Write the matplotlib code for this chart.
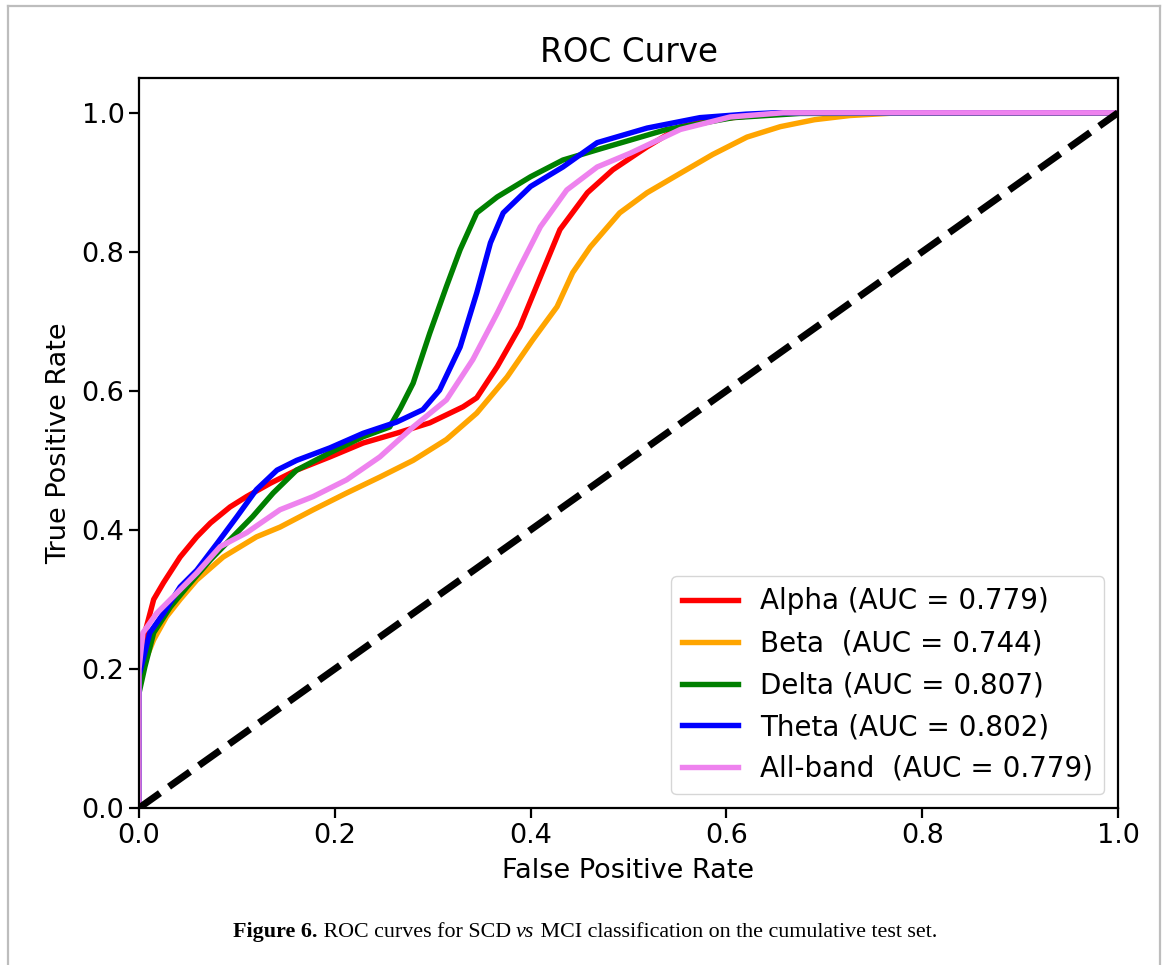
import numpy as np
import matplotlib
matplotlib.use('Agg')
import matplotlib.pyplot as plt
from matplotlib.lines import Line2D
from matplotlib.offsetbox import TextArea, HPacker, AnchoredOffsetbox

# valores (fpr, tpr)
alpha_fpr = [0, 0, 0.006, 0.015, 0.025, 0.042, 0.059, 0.073, 0.093, 0.11, 0.134, 0.161, 0.195, 0.229, 0.263,
             0.297, 0.331, 0.345, 0.366, 0.389, 0.41, 0.43, 0.458, 0.484, 0.519, 0.553, 0.586, 0.62, 0.66, 0.70, 1.0]
alpha_tpr = [0, 0.213, 0.252, 0.30, 0.324, 0.361, 0.39, 0.41, 0.433, 0.448, 0.467, 0.486, 0.505, 0.525, 0.539,
             0.554, 0.577, 0.59, 0.635, 0.692, 0.764, 0.832, 0.885, 0.918, 0.951, 0.98, 0.99, 0.995, 0.999, 1.0, 1.0]

beta_fpr = [0, 0, 0.015, 0.028, 0.042, 0.059, 0.086, 0.12, 0.144, 0.178, 0.212, 0.246, 0.28, 0.314, 0.345,
            0.376, 0.402, 0.427, 0.443, 0.461, 0.491, 0.519, 0.553, 0.586, 0.621, 0.655, 0.69, 0.726, 0.777, 1.0]
beta_tpr = [0, 0.19, 0.242, 0.275, 0.30, 0.328, 0.361, 0.39, 0.404, 0.429, 0.453, 0.476, 0.50, 0.53, 0.568,
            0.62, 0.673, 0.721, 0.77, 0.807, 0.856, 0.885, 0.913, 0.94, 0.965, 0.98, 0.99, 0.996, 1.0, 1.0]

delta_fpr = [0, 0, 0.006, 0.015, 0.032, 0.049, 0.073, 0.093, 0.116, 0.137, 0.161, 0.195, 0.229, 0.256,
             0.267, 0.28, 0.297, 0.314, 0.328, 0.345, 0.366, 0.40, 0.433, 0.471, 0.539, 0.607, 0.675, 1.0]
delta_tpr = [0, 0.165, 0.203, 0.252, 0.289, 0.318, 0.357, 0.386, 0.419, 0.453, 0.486, 0.511, 0.534, 0.548,
             0.575, 0.611, 0.683, 0.75, 0.803, 0.856, 0.879, 0.908, 0.932, 0.948, 0.976, 0.993, 0.999, 1.0]

theta_fpr = [0, 0, 0.011, 0.025, 0.042, 0.059, 0.08, 0.10, 0.12, 0.141, 0.161, 0.195, 0.229, 0.263, 0.29,
             0.307, 0.328, 0.345, 0.359, 0.372, 0.40, 0.433, 0.468, 0.519, 0.573, 0.62, 0.65, 1.0]
theta_tpr = [0, 0.19, 0.252, 0.28, 0.318, 0.342, 0.381, 0.419, 0.458, 0.486, 0.50, 0.518, 0.539, 0.555, 0.573,
             0.601, 0.663, 0.741, 0.813, 0.856, 0.894, 0.922, 0.957, 0.978, 0.993, 0.998, 1.0, 1.0]

all_fpr = [0, 0, 0.004, 0.018, 0.035, 0.059, 0.083, 0.11, 0.144, 0.178, 0.212, 0.246, 0.28, 0.314, 0.341,
           0.366, 0.389, 0.41, 0.437, 0.468, 0.502, 0.553, 0.604, 0.658, 1.0]
all_tpr = [0, 0.2, 0.252, 0.28, 0.304, 0.338, 0.376, 0.396, 0.429, 0.448, 0.472, 0.505, 0.548, 0.587, 0.645,
           0.712, 0.778, 0.836, 0.889, 0.922, 0.942, 0.976, 0.994, 1.0, 1.0]

etiquetas = ['Alpha (AUC = 0.779)', 'Beta  (AUC = 0.744)', 'Delta (AUC = 0.807)',
             'Theta (AUC = 0.802)', 'All-band  (AUC = 0.779)']
colores = ['red', 'orange', 'green', 'blue', 'violet']
curvas = [(alpha_fpr, alpha_tpr), (beta_fpr, beta_tpr), (delta_fpr, delta_tpr),
          (theta_fpr, theta_tpr), (all_fpr, all_tpr)]

fig = plt.figure(figsize=(11.7, 9.65), dpi=100)
ax = fig.add_axes([139 / 1170, 1 - 808 / 965, (1118 - 139) / 1170, (808 - 78) / 965])

for (fpr, tpr), c, lab in zip(curvas, colores, etiquetas):
    ax.plot(fpr, tpr, color=c, linewidth=3.9, label=lab)
ax.plot([0, 1], [0, 1], 'k--', linewidth=5)

ax.set_xlim(0, 1.0)
ax.set_ylim(0, 1.05)
ax.set_xticks([0, 0.2, 0.4, 0.6, 0.8, 1.0])
ax.set_yticks([0, 0.2, 0.4, 0.6, 0.8, 1.0])
ax.tick_params(labelsize=19.5, length=7, width=1.6)
for s in ax.spines.values():
    s.set_linewidth(1.6)
ax.set_xlabel('False Positive Rate', fontsize=19.5, labelpad=7)
ax.set_ylabel('True Positive Rate', fontsize=19.5, labelpad=7)
ax.set_title('ROC Curve', fontsize=23.5, pad=11.5)
ax.legend(loc='lower right', fontsize=20, borderaxespad=0.5, labelspacing=0.5)

# marco gris de la pagina
gris = '#bdbdbd'
xl, xr, yt = 8 / 1170, 1160 / 1170, 1 - 6 / 965
fig.add_artist(Line2D([xl, xl], [0, yt], color=gris, linewidth=1.6, transform=fig.transFigure))
fig.add_artist(Line2D([xl, xr], [yt, yt], color=gris, linewidth=1.6, transform=fig.transFigure))
fig.add_artist(Line2D([xr, xr], [0, yt], color=gris, linewidth=1.6, transform=fig.transFigure))

# pie de figura
fuente = 'Liberation Serif'
partes = [('Figure 6.', 'bold', 'normal'), (' ROC curves for SCD ', 'normal', 'normal'),
          ('vs', 'normal', 'italic'), (' MCI classification on the cumulative test set.', 'normal', 'normal')]
cajas = [TextArea(t, textprops=dict(family=fuente, fontsize=15.8, fontweight=w, fontstyle=st))
         for t, w, st in partes]
pie = HPacker(children=cajas, align='baseline', pad=0, sep=0)
anc = AnchoredOffsetbox(loc='center', child=pie, frameon=False,
                        bbox_to_anchor=(585 / 1170, 1 - 932 / 965), bbox_transform=fig.transFigure)
fig.add_artist(anc)

fig.savefig('out.png', dpi=100)
